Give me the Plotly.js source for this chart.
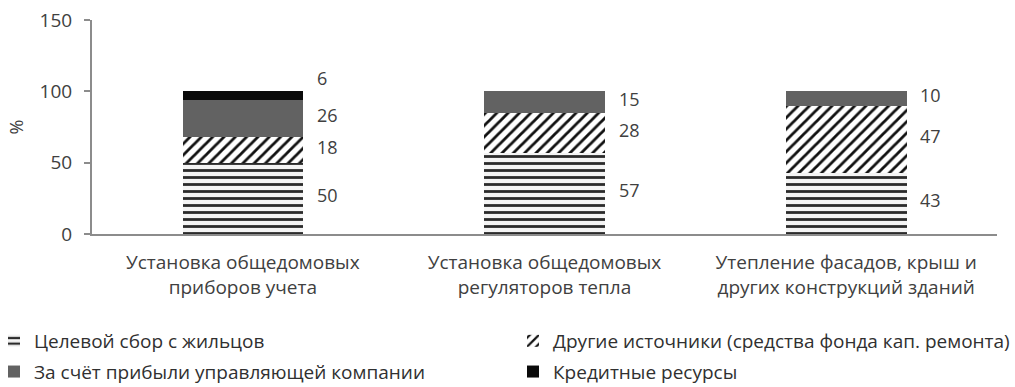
<!DOCTYPE html>
<html>
<head>
<meta charset="utf-8">
<script src="https://cdn.plot.ly/plotly-3.0.1.min.js"></script>
<style>
  html, body { margin: 0; padding: 0; background: #fff; }
  #chart { width: 1015px; height: 387px; }
</style>
</head>
<body>
<div id="chart"></div>
<script>
// Categories (two-line tick labels)
var categories = [
  'Установка общедомовых<br>приборов учета',
  'Установка общедомовых<br>регуляторов тепла',
  'Утепление фасадов, крыш и<br>других конструкций зданий'
];

// Series names
var seriesNames = [
  'Целевой сбор с жильцов',
  'Другие источники (средства фонда кап. ремонта)',
  'За счёт прибыли управляющей компании',
  'Кредитные ресурсы'
];

// Shares, %
var residents   = [50, 57, 43];
var otherFunds  = [18, 28, 47];
var mgmtProfit  = [26, 15, 10];
var credit      = [6, null, null];

var yTicks = [0, 50, 100, 150];

var FONT = '"Open Sans", "DejaVu Sans", sans-serif';
var TXT = '#404040';

var seriesData = [residents, otherFunds, mgmtProfit, credit];
var styles = [
  {color: '#ffffff', pattern: {shape: '-', fgcolor: '#2b2b2b', bgcolor: '#f4f4f4', size: 7, solidity: 0.4, fillmode: 'replace'}},
  {color: '#ffffff', pattern: {shape: '/', fgcolor: '#111111', bgcolor: '#ffffff', size: 8, solidity: 0.35, fillmode: 'replace'}},
  {color: '#626262'},
  {color: '#0a0a0a'}
];
// Legend column for each series: left column holds 1st and 3rd, right column 2nd and 4th
var legendIds = ['legend', 'legend2', 'legend', 'legend2'];

var traces = seriesData.map(function (vals, i) {
  return {
    type: 'bar',
    name: seriesNames[i],
    x: categories,
    y: vals,
    width: 0.4,
    legend: legendIds[i],
    legendgroup: 'g' + i,
    marker: Object.assign({line: {width: 0}}, styles[i]),
    hoverinfo: 'y+name'
  };
});

// Value labels to the right of each segment
var annotations = [];
categories.forEach(function (cat, ci) {
  var base = 0;
  seriesData.forEach(function (vals) {
    var v = vals[ci];
    if (v == null) return;
    var mid = base + v / 2;
    base += v;
    annotations.push({
      x: ci, xref: 'x', y: mid, yref: 'y',
      text: String(v),
      showarrow: false,
      xanchor: 'left',
      xshift: 72,
      yshift: v < 8 ? 18 : 3,
      font: {family: FONT, size: 18, color: TXT}
    });
  });
});

var legendBase = {
  orientation: 'v',
  traceorder: 'grouped',
  tracegroupgap: 3,
  yref: 'container',
  y: 0.168,
  xref: 'paper',
  xanchor: 'left', yanchor: 'top',
  font: {family: FONT, size: 19, color: '#303030'},
  bgcolor: 'rgba(0,0,0,0)'
};

var layout = {
  width: 1015,
  height: 387,
  margin: {l: 92, r: 18, t: 20, b: 153},
  paper_bgcolor: '#ffffff',
  plot_bgcolor: '#ffffff',
  barmode: 'stack',
  font: {family: FONT, size: 19, color: TXT},
  showlegend: true,
  legend: Object.assign({}, legendBase, {x: -0.11, indentation: -6}),
  legend2: Object.assign({}, legendBase, {x: 0.4652}),
  xaxis: {
    type: 'category',
    showline: true,
    linecolor: '#8c8c8c',
    linewidth: 2,
    ticks: '',
    ticklabelstandoff: 10,
    showgrid: false,
    zeroline: false,
    tickfont: {family: FONT, size: 19, color: TXT},
    fixedrange: true
  },
  yaxis: {
    range: [0, 150],
    tickvals: yTicks,
    ticktext: yTicks.map(String),
    showline: true,
    linecolor: '#8c8c8c',
    linewidth: 2,
    ticks: 'outside',
    ticklen: 6,
    tickwidth: 2,
    tickcolor: '#8c8c8c',
    ticklabelstandoff: 8,
    showgrid: false,
    zeroline: false,
    tickfont: {family: FONT, size: 19, color: TXT},
    title: {text: '%', font: {family: FONT, size: 18, color: TXT}, standoff: 11},
    fixedrange: true
  },
  annotations: annotations
};

Plotly.newPlot('chart', traces, layout, {displayModeBar: false, staticPlot: true});
</script>
</body>
</html>
